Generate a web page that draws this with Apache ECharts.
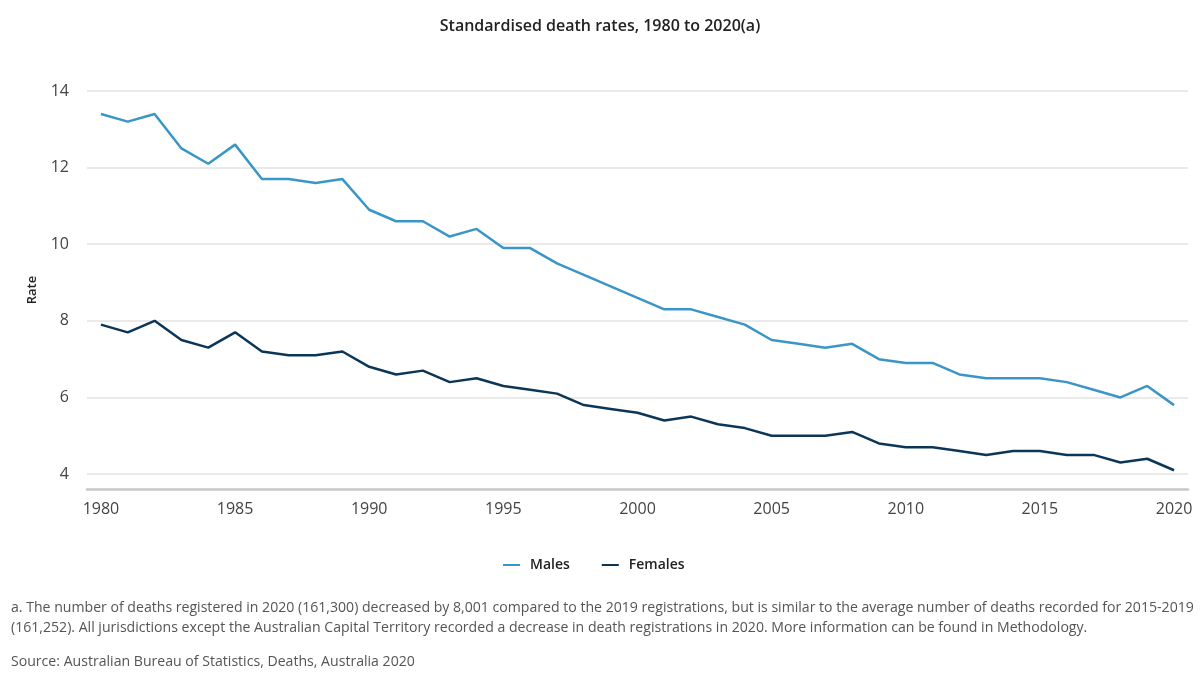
<!DOCTYPE html>
<html>
<head>
<meta charset="utf-8">
<script src="https://cdn.jsdelivr.net/npm/echarts@6/dist/echarts.min.js"></script>
<style>
	html, body { margin: 0; padding: 0; background: #fff; }
	#chart { width: 1200px; height: 683px; }
</style>
</head>
<body>
<div id="chart"></div>
<script>
const years = [
	1980, 1981, 1982, 1983, 1984, 1985, 1986, 1987, 1988, 1989,
	1990, 1991, 1992, 1993, 1994, 1995, 1996, 1997, 1998, 1999,
	2000, 2001, 2002, 2003, 2004, 2005, 2006, 2007, 2008, 2009,
	2010, 2011, 2012, 2013, 2014, 2015, 2016, 2017, 2018, 2019, 2020,
];
const males = [
	13.4, 13.2, 13.4, 12.5, 12.1, 12.6, 11.7, 11.7, 11.6, 11.7,
	10.9, 10.6, 10.6, 10.2, 10.4, 9.9, 9.9, 9.5, 9.2, 8.9,
	8.6, 8.3, 8.3, 8.1, 7.9, 7.5, 7.4, 7.3, 7.4, 7.0,
	6.9, 6.9, 6.6, 6.5, 6.5, 6.5, 6.4, 6.2, 6.0, 6.3, 5.8,
];
const females = [
	7.9, 7.7, 8.0, 7.5, 7.3, 7.7, 7.2, 7.1, 7.1, 7.2,
	6.8, 6.6, 6.7, 6.4, 6.5, 6.3, 6.2, 6.1, 5.8, 5.7,
	5.6, 5.4, 5.5, 5.3, 5.2, 5.0, 5.0, 5.0, 5.1, 4.8,
	4.7, 4.7, 4.6, 4.5, 4.6, 4.6, 4.5, 4.5, 4.3, 4.4, 4.1,
];
const yearTicks = [1980, 1985, 1990, 1995, 2000, 2005, 2010, 2015, 2020];
const rateTicks = [4, 6, 8, 10, 12, 14];

const font = '"Open Sans", "Noto Sans", sans-serif';
const pair = (vals) => years.map((y, i) => [y, vals[i]]);

const chart = echarts.init(document.getElementById('chart'));
chart.setOption({
	animation: false,
	textStyle: { fontFamily: font },
	title: {
		text: 'Standardised death rates, 1980 to 2020(a)',
		left: 'center',
		top: 13,
		textStyle: { fontFamily: font, fontSize: 16, fontWeight: 600, color: '#222' },
	},
	legend: {
		top: 553,
		left: 498,
		icon: 'rect',
		itemWidth: 17,
		itemHeight: 2,
		itemGap: 32,
		textStyle: {
			fontFamily: font, fontSize: 14, fontWeight: 600, color: '#222',
			padding: [0, 0, 0, 5],
		},
		data: ['Males', 'Females'],
	},
	// bottom edge sits a little below 4 so the axis line clears the last gridline
	grid: { left: 87, right: 12, top: 91, bottom: 194 },
	xAxis: {
		type: 'value',
		min: 1979.48,
		max: 2020.52,
		z: 5,
		axisLine: { show: true, onZero: false, lineStyle: { color: '#c8c8c8', width: 2.5 } },
		axisTick: { show: false },
		splitLine: { show: false },
		axisLabel: {
			customValues: yearTicks,
			fontSize: 16,
			color: '#444',
			margin: 12,
			formatter: (v) => String(v),
		},
	},
	yAxis: {
		type: 'value',
		min: 3.61,
		max: 14,
		name: 'Rate',
		nameLocation: 'middle',
		nameGap: 48,
		nameTextStyle: { fontFamily: font, fontSize: 13, fontWeight: 600, color: '#222' },
		axisLine: { show: false },
		axisTick: { show: false, customValues: rateTicks },
		axisLabel: { customValues: rateTicks, fontSize: 16, color: '#444', margin: 18 },
		splitLine: { lineStyle: { color: '#e3e3e3', width: 1.5 } },
	},
	series: [
		{
			name: 'Males',
			type: 'line',
			data: pair(males),
			showSymbol: false,
			symbol: 'none',
			lineStyle: { width: 2.5, color: '#3b96c8' },
			itemStyle: { color: '#3b96c8' },
		},
		{
			name: 'Females',
			type: 'line',
			data: pair(females),
			showSymbol: false,
			symbol: 'none',
			lineStyle: { width: 2.5, color: '#0c3657' },
			itemStyle: { color: '#0c3657' },
		},
	],
	graphic: [
		{
			type: 'text',
			left: 11,
			top: 598,
			style: {
				text: 'a. The number of deaths registered in 2020 (161,300) decreased by 8,001 compared to the 2019 registrations, but is similar to the average number of deaths recorded for 2015-2019\n(161,252). All jurisdictions except the Australian Capital Territory recorded a decrease in death registrations in 2020. More information can be found in Methodology.',
				font: '14.1px ' + font,
				lineHeight: 20,
				fill: '#555',
			},
		},
		{
			type: 'text',
			left: 11,
			top: 655,
			style: {
				text: 'Source: Australian Bureau of Statistics, Deaths, Australia 2020',
				font: '14.1px ' + font,
				fill: '#555',
			},
		},
	],
});
</script>
</body>
</html>
